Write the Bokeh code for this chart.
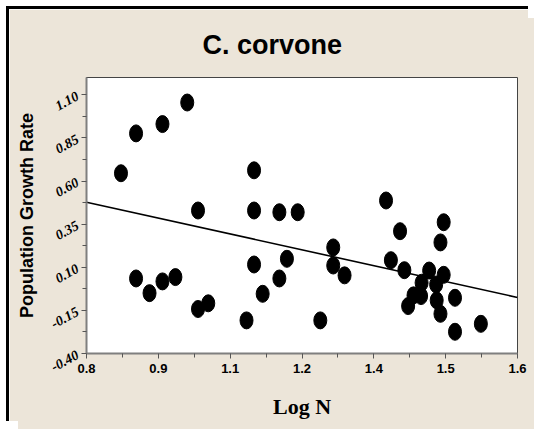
from bokeh.plotting import figure
from bokeh.models import FixedTicker, Range1d
from bokeh.embed import file_html
from bokeh.resources import INLINE

# ---- data ----
log_n = [0.864, 0.892, 0.941, 0.987, 1.007,
         0.892, 0.917, 0.941, 0.965, 1.007, 1.026,
         1.097, 1.111, 1.111, 1.158, 1.192, 1.111, 1.127, 1.158, 1.172,
         1.234, 1.258, 1.258, 1.279, 1.356, 1.382, 1.365, 1.390,
         1.463, 1.457, 1.436, 1.463, 1.422, 1.449, 1.407, 1.421,
         1.397, 1.450, 1.484, 1.457, 1.484, 1.532]
growth = [0.645, 0.876, 0.930, 1.055, 0.429,
          0.035, -0.050, 0.018, 0.043, -0.142, -0.109,
          -0.208, 0.662, 0.429, 0.419, 0.419, 0.116, -0.054, 0.035, 0.149,
          -0.208, 0.215, 0.110, 0.053, 0.487, 0.309, 0.141, 0.083,
          0.361, 0.244, 0.081, 0.056, 0.010, 0.000, -0.063, -0.067,
          -0.125, -0.092, -0.077, -0.170, -0.274, -0.228]
fit_x = [0.8, 1.6]
fit_y = [0.477, -0.075]

x_ticks = [0.8, 0.9333333, 1.0666667, 1.2, 1.3333333, 1.4666667, 1.6]
x_minor = [0.8666667, 1.0, 1.1333333, 1.2666667, 1.4, 1.5333333]
x_tick_labels = ["0.8", "0.9", "1.1", "1.2", "1.4", "1.5", "1.6"]
y_ticks = [-0.40, -0.15, 0.10, 0.35, 0.60, 0.85, 1.10]
y_minor = [-0.275, -0.025, 0.225, 0.475, 0.725, 0.975]
y_tick_labels = ["-0.40", "-0.15", "0.10", "0.35", "0.60", "0.85", "1.10"]

BG = "#ECE5D9"

p = figure(width=522, height=415, output_backend="svg", toolbar_location=None,
           x_range=Range1d(0.8, 1.6), y_range=Range1d(-0.40, 1.20),
           min_border_left=77, min_border_right=14, min_border_top=67,
           min_border_bottom=71, title="C. corvone")
p.styles = {"position": "absolute", "left": "6px", "top": "6px",
            "border-left": "3px solid black", "border-top": "3px solid black",
            "box-shadow": "12px 12px 0px 0px " + BG}
p.background_fill_color = "white"
p.border_fill_color = BG
p.outline_line_color = "#444444"
p.outline_line_width = 1
p.grid.visible = False

p.title.align = "left"
p.title.offset = 116
p.title.standoff = 36
p.title.text_font = "Liberation Sans"
p.title.text_font_size = "27px"
p.title.text_font_style = "bold"
p.title.text_color = "black"

xa = p.xaxis[0]
xa.ticker = FixedTicker(ticks=x_ticks, minor_ticks=x_minor)
xa.major_label_overrides = {t: l for t, l in zip(x_ticks, x_tick_labels)}
xa.axis_label = "Log N"
xa.axis_label_text_font = "Liberation Serif"
xa.axis_label_text_font_style = "bold"
xa.axis_label_text_font_size = "22px"
xa.axis_label_standoff = 18
xa.major_label_text_font = "Liberation Sans"
xa.major_label_text_font_style = "bold"
xa.major_label_text_font_size = "13px"
xa.major_label_standoff = 5

ya = p.yaxis[0]
ya.ticker = FixedTicker(ticks=y_ticks, minor_ticks=y_minor)
ya.major_label_overrides = {t: l for t, l in zip(y_ticks, y_tick_labels)}
ya.major_label_orientation = 0.5
ya.axis_label = "Population Growth Rate"
ya.axis_label_text_font = "Liberation Sans"
ya.axis_label_text_font_style = "bold"
ya.axis_label_text_font_size = "18px"
ya.axis_label_standoff = 7
ya.major_label_text_font = "Liberation Serif"
ya.major_label_text_font_style = "bold italic"
ya.major_label_text_font_size = "14px"
ya.major_label_standoff = 4

for ax in (xa, ya):
    ax.axis_line_color = "#7f7f7f"
    ax.axis_line_width = 2
    ax.major_tick_line_color = "#555555"
    ax.minor_tick_line_color = "#555555"
    ax.major_tick_out = 5
    ax.major_tick_in = 0
    ax.minor_tick_out = 4
    ax.minor_tick_in = 0
    ax.major_label_text_color = "black"
    ax.axis_label_text_color = "black"

p.line(fit_x, fit_y, line_color="black", line_width=1.6)
p.ellipse(x=log_n, y=growth, width=13, height=17, width_units="screen",
          height_units="screen", fill_color="black", line_color="black")

open("out.html", "w").write(file_html(p, INLINE))
